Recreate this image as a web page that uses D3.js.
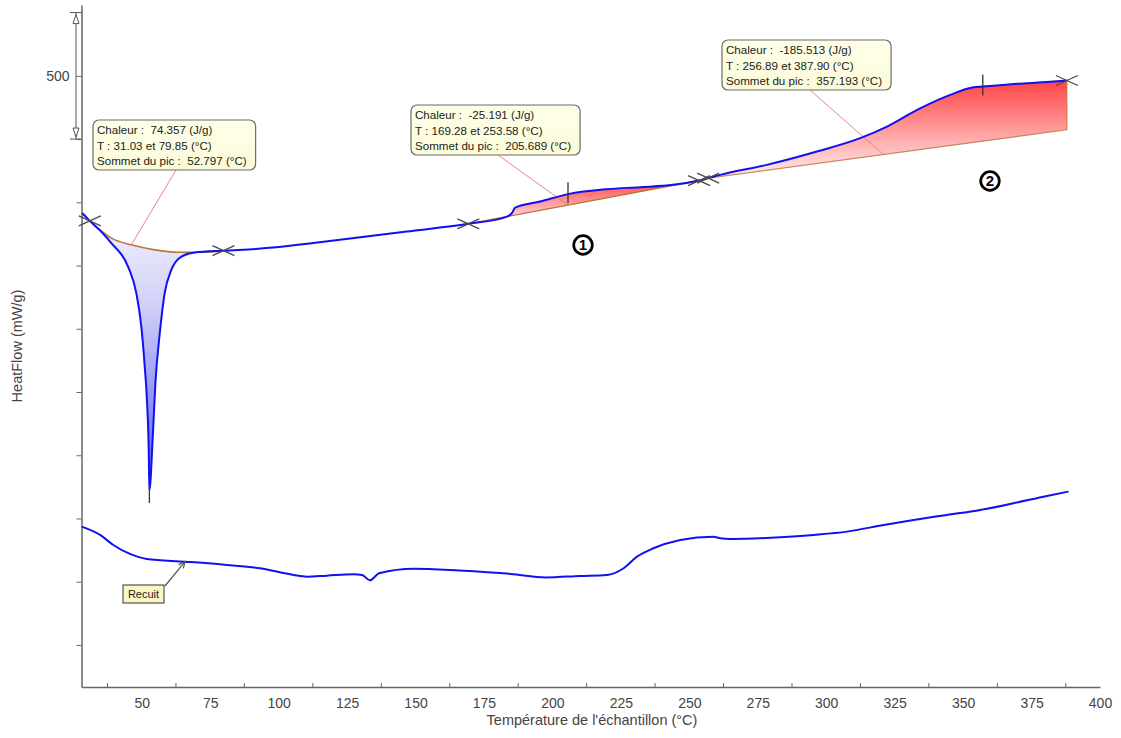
<!DOCTYPE html>
<html>
<head>
<meta charset="utf-8">
<script src="https://cdn.jsdelivr.net/npm/d3@7"></script>
<style>
  body { margin: 0; background: #fff; }
  svg { display: block; }
  text { font-family: "Liberation Sans", Arial, sans-serif; }
  .pre { white-space: pre; }
</style>
</head>
<body>
<svg id="chart" width="1121" height="738"></svg>
<script>
// First heating run (°C, mW/g) with the integrated peaks
const heatTemp = [28.3, 31.03, 35.2, 38.9, 45.0, 48.0, 49.85, 51.1, 51.9, 52.55, 52.797,
  54.1, 55.0, 56.6, 58.4, 60.8, 64.5, 69.4, 79.85, 92.5, 122.4, 146.8, 169.28,
  183.4, 185.2, 186.4, 195.5, 205.689, 219.9, 232.1, 244.1, 253.58, 256.89, 261.3,
  278.3, 296.6, 312.4, 322.2, 333.2, 345.3, 353.8, 357.193, 369.7, 381.9, 387.90];
const heatFlow = [282.8, 270.6, 253.7, 235.4, 198.4, 156.8, 103.4, 40.2, -12.5, -91.6, -155,
  -64.7, 14.4, 93.5, 156.8, 193.1, 214.2, 220.5, 223.5, 226.4, 240.6, 253.7, 265.9,
  277.4, 282.8, 291.7, 301.2, 312.9, 320.8, 323.9, 327.6, 334.4, 338.2, 343.4,
  359.2, 380.3, 401.5, 419.8, 446.2, 469.9, 482.1, 483.1, 487.3, 490.5, 492.6];

// Annealed sample ("Recuit")
const recuitTemp = [28.07, 34.8, 39.6, 45.7, 51.8, 65.8, 81.05, 93.2, 105.4, 110.3, 117.6,
  127.3, 130.5, 133.3, 136.7, 149.4, 165.9, 184.8, 197.5, 210.1, 219.9, 226.0, 230.9,
  236.9, 246.7, 258.8, 261.3, 264.9, 283.2, 295.4, 307.6, 321.0, 331.9, 344.1, 356.3,
  368.4, 380.6, 388.5];
const recuitFlow = [-212.9, -226.0, -241.9, -256.1, -264.0, -268.3, -273.5, -278.7, -289.3, -292.0, -290.4,
  -288.2, -289.3, -297.7, -286.6, -279.5, -282.4, -287.7, -293.2, -290.9, -289.3, -278.7, -260.4,
  -247.1, -234.0, -228.7, -231.3, -232.4, -229.7, -226.0, -220.8, -210.2, -202.3, -194.4, -186.5,
  -175.9, -164.3, -157.5];

// Curved baseline under the melting peak
const base1Temp = [31.03, 38.9, 46.2, 54.7, 63.3, 73.0, 79.85];
const base1Flow = [270.6, 243.3, 232.7, 224.8, 221.1, 221.1, 223.5];
// Straight baselines of the two exothermic peaks (start / end values)
const base2Flow = [265.9, 334.4];
const base3Flow = [338.2, 414.6];

// Peak integration results
const peakStart = [31.03, 169.28, 256.89];
const peakEnd = [79.85, 253.58, 387.90];
const peakTop = [52.797, 205.689, 357.193];
const peakHeat = [74.357, -25.191, -185.513];

// Axes
const xTicks = [50, 75, 100, 125, 150, 175, 200, 225, 250, 275, 300, 325, 350, 375, 400];
const yTicks = [500, 400, 300, 200, 100, 0, -100, -200, -300, -400];
const yTickLabels = ["500", "", "", "", "", "", "", "", "", ""];
const xTitle = "Température de l'échantillon (°C)";
const yTitle = "HeatFlow (mW/g)";
const markLabels = ["1", "2"];
const recuitLabel = "Recuit";

// Layout (pixels)
const layout = {
  boxes: [
    { x: 93, y: 120, from: [176, 170], toT: 46.2 },
    { x: 411, y: 105, from: [498, 155], toT: 205.689 },
    { x: 722, y: 40, from: [810, 90], toT: 320.9 }
  ],
  marks: [{ x: 583, y: 245 }, { x: 990, y: 181 }],
  recuit: { x: 123, y: 585, w: 41, h: 18, from: [165, 586], t: 65.8 }
};

const svg = d3.select("#chart");
const x = d3.scaleLinear().domain([28, 400]).range([81.5, 1100]);
const y = d3.scaleLinear().domain([-466.5, 612]).range([687, 5]);

function interp(ts, vs, t) {
  if (t <= ts[0]) return vs[0];
  for (let i = 1; i < ts.length; i++) {
    if (t <= ts[i]) {
      const f = (t - ts[i - 1]) / (ts[i] - ts[i - 1]);
      return vs[i - 1] + f * (vs[i] - vs[i - 1]);
    }
  }
  return vs[vs.length - 1];
}
function baselineAt(i, t) {
  if (i === 0) return interp(base1Temp, base1Flow, t);
  const b = i === 1 ? base2Flow : base3Flow;
  return interp([peakStart[i], peakEnd[i]], b, t);
}
const heatAt = t => interp(heatTemp, heatFlow, t);

const defs = svg.append("defs");
const gBlue = defs.append("linearGradient").attr("id", "gBlue")
  .attr("x1", 0).attr("y1", 0).attr("x2", 0).attr("y2", 1);
gBlue.append("stop").attr("offset", 0).attr("stop-color", "#f0f0fd");
gBlue.append("stop").attr("offset", 0.3).attr("stop-color", "#d2d2f8");
gBlue.append("stop").attr("offset", 1).attr("stop-color", "#5c5cf2");
const gRed = defs.append("linearGradient").attr("id", "gRed")
  .attr("x1", 0).attr("y1", 0).attr("x2", 0).attr("y2", 1);
gRed.append("stop").attr("offset", 0).attr("stop-color", "#ff4444");
gRed.append("stop").attr("offset", 1).attr("stop-color", "#fff0f0");
const gBox = defs.append("linearGradient").attr("id", "gBox")
  .attr("x1", 0).attr("y1", 0).attr("x2", 0).attr("y2", 1);
gBox.append("stop").attr("offset", 0).attr("stop-color", "#ffffea");
gBox.append("stop").attr("offset", 1).attr("stop-color", "#fbfbd8");

// ---- axes
const axisColor = "#666";
const gx = svg.append("g").attr("transform", `translate(0,${y.range()[0]})`)
  .call(d3.axisBottom(x).tickValues(xTicks).tickSize(0).tickSizeOuter(0).tickPadding(11));
gx.select(".domain").attr("stroke", axisColor).attr("stroke-width", 1.5);
gx.selectAll("text").attr("font-size", 14).attr("fill", "#444")
  .attr("font-family", "'Liberation Sans', Arial, sans-serif");
// minor ticks between the labels
const minor = d3.range(xTicks[0] - 12.5, x.domain()[1], 25);
svg.append("g").selectAll("line").data(minor).join("line")
  .attr("x1", d => x(d)).attr("x2", d => x(d))
  .attr("y1", y.range()[0]).attr("y2", y.range()[0] - 4)
  .attr("stroke", axisColor).attr("stroke-width", 1);

const gy = svg.append("g").attr("transform", `translate(${x.range()[0]},0)`)
  .call(d3.axisLeft(y).tickValues(yTicks).tickSize(5).tickSizeOuter(0).tickPadding(7)
    .tickFormat((d, i) => yTickLabels[i]));
gy.select(".domain").attr("stroke", axisColor).attr("stroke-width", 1.5);
gy.selectAll(".tick line").attr("stroke", axisColor);
gy.selectAll("text").attr("font-size", 14).attr("fill", "#444")
  .attr("font-family", "'Liberation Sans', Arial, sans-serif");

// scale bar 600 -> 400
{
  const bx = x.range()[0] - 5.5, top = y(600), bot = y(400);
  const g = svg.append("g").attr("stroke", "#555").attr("fill", "#fff").attr("stroke-width", 1);
  g.append("line").attr("x1", bx).attr("x2", bx).attr("y1", top).attr("y2", bot);
  g.append("line").attr("x1", bx - 6).attr("x2", bx + 5.5).attr("y1", top).attr("y2", top);
  g.append("line").attr("x1", bx - 6).attr("x2", bx + 5.5).attr("y1", bot).attr("y2", bot);
  g.append("path").attr("d", `M${bx},${top + 2}L${bx - 3},${top + 11}L${bx + 3},${top + 11}Z`);
  g.append("path").attr("d", `M${bx},${bot - 2}L${bx - 3},${bot - 11}L${bx + 3},${bot - 11}Z`);
}

// ---- peak areas
const areaGen = d3.area().curve(d3.curveMonotoneX)
  .x(d => x(d.t)).y0(d => y(d.b)).y1(d => y(d.v));
peakStart.forEach((s, i) => {
  const pts = heatTemp.map((t, k) => ({ t, v: heatFlow[k] }))
    .filter(p => p.t >= s - 1e-9 && p.t <= peakEnd[i] + 1e-9)
    .map(p => ({ ...p, b: baselineAt(i, p.t) }));
  svg.append("path").attr("d", areaGen(pts))
    .attr("fill", peakHeat[i] > 0 ? "url(#gBlue)" : "url(#gRed)");
});

// ---- baselines
const baseColor = "#b8763c";
const lineMono = d3.line().curve(d3.curveMonotoneX).x(d => x(d[0])).y(d => y(d[1]));
svg.append("path").attr("d", lineMono(base1Temp.map((t, k) => [t, base1Flow[k]])))
  .attr("fill", "none").attr("stroke", baseColor).attr("stroke-width", 1.6);
svg.append("path").attr("d", d3.line()([[x(peakStart[1]), y(base2Flow[0])], [x(peakEnd[1]), y(base2Flow[1])]]))
  .attr("fill", "none").attr("stroke", baseColor).attr("stroke-width", 1.4);
svg.append("path").attr("d", d3.line()([[x(peakStart[2]), y(base3Flow[0])], [x(peakEnd[2]), y(base3Flow[1])],
  [x(peakEnd[2]), y(heatAt(peakEnd[2]))]]))
  .attr("fill", "none").attr("stroke", baseColor).attr("stroke-width", 1.2).attr("stroke-opacity", 0.8);

// ---- leader lines
layout.boxes.forEach((b, i) => {
  svg.append("line").attr("x1", b.from[0]).attr("y1", b.from[1])
    .attr("x2", x(b.toT)).attr("y2", y(baselineAt(i, b.toT)))
    .attr("stroke", "#e07a7a").attr("stroke-width", 0.9);
});

// ---- curves
const curveColor = "#1010f2";
svg.append("path").attr("d", lineMono(heatTemp.map((t, k) => [t, heatFlow[k]])))
  .attr("fill", "none").attr("stroke", curveColor).attr("stroke-width", 2);
svg.append("path").attr("d", lineMono(recuitTemp.map((t, k) => [t, recuitFlow[k]])))
  .attr("fill", "none").attr("stroke", curveColor).attr("stroke-width", 2);

// ---- limit markers and peak ticks
const markerColor = "#4a4a4a";
peakStart.forEach((s, i) => {
  [s, peakEnd[i]].forEach(t => {
    svg.append("path").attr("transform", `translate(${x(t)},${y(heatAt(t))})`)
      .attr("d", "M-11,-5L11,5M-11,5L11,-5")
      .attr("stroke", markerColor).attr("stroke-width", 1.3).attr("fill", "none");
  });
  const px = x(peakTop[i]), py = y(heatAt(peakTop[i]));
  const up = peakHeat[i] > 0 ? 7 : 12, down = peakHeat[i] > 0 ? 13 : 9;
  svg.append("line").attr("x1", px).attr("x2", px)
    .attr("y1", py - up).attr("y2", py + down)
    .attr("stroke", "#333").attr("stroke-width", 1.3);
});

// ---- result boxes
layout.boxes.forEach((b, i) => {
  const lines = [
    `Chaleur :  ${peakHeat[i].toFixed(3)} (J/g)`,
    `T : ${peakStart[i].toFixed(2)} et ${peakEnd[i].toFixed(2)} (°C)`,
    `Sommet du pic :  ${peakTop[i].toFixed(3)} (°C)`
  ];
  const g = svg.append("g").attr("transform", `translate(${b.x},${b.y})`);
  const rect = g.append("rect").attr("rx", 6).attr("ry", 6)
    .attr("fill", "url(#gBox)").attr("stroke", "#6b6b6b").attr("stroke-width", 1.2);
  const texts = g.selectAll("text").data(lines).join("text").attr("class", "pre")
    .attr("x", 4).attr("y", (d, k) => 14 + k * 15.6)
    .attr("font-size", 11.6).attr("fill", "#222").text(d => d);
  let w = 0;
  texts.each(function () { w = Math.max(w, this.getComputedTextLength()); });
  rect.attr("width", w + 13).attr("height", 50);
});

// ---- annealing label
{
  const r = layout.recuit;
  const tx = x(r.t), ty = y(interp(recuitTemp, recuitFlow, r.t));
  svg.append("line").attr("x1", r.from[0]).attr("y1", r.from[1]).attr("x2", tx).attr("y2", ty)
    .attr("stroke", "#555").attr("stroke-width", 1.2);
  const ang = Math.atan2(ty - r.from[1], tx - r.from[0]);
  const ah = 7, spread = 0.45;
  const p1 = [tx - ah * Math.cos(ang - spread), ty - ah * Math.sin(ang - spread)];
  const p2 = [tx - ah * Math.cos(ang + spread), ty - ah * Math.sin(ang + spread)];
  svg.append("path").attr("d", `M${p1}L${tx},${ty}L${p2}`)
    .attr("fill", "none").attr("stroke", "#555").attr("stroke-width", 1.2);
  svg.append("rect").attr("x", r.x).attr("y", r.y).attr("width", r.w).attr("height", r.h)
    .attr("fill", "#fbf7c2").attr("stroke", "#444").attr("stroke-width", 1.1);
  svg.append("text").attr("x", r.x + r.w / 2).attr("y", r.y + r.h / 2 + 4)
    .attr("text-anchor", "middle").attr("font-size", 11).attr("fill", "#222").text(recuitLabel);
}

// ---- circled peak numbers
layout.marks.forEach((m, i) => {
  svg.append("circle").attr("cx", m.x).attr("cy", m.y).attr("r", 9.3)
    .attr("fill", "#fff").attr("stroke", "#000").attr("stroke-width", 2.7);
  svg.append("text").attr("x", m.x).attr("y", m.y + 5.3).attr("text-anchor", "middle")
    .attr("font-size", 15).attr("font-weight", "bold").attr("fill", "#000").text(markLabels[i]);
});

// ---- titles
svg.append("text").attr("x", 592).attr("y", 725).attr("text-anchor", "middle")
  .attr("font-size", 14.5).attr("fill", "#444").text(xTitle);
svg.append("text").attr("transform", "translate(22,346) rotate(-90)").attr("text-anchor", "middle")
  .attr("font-size", 14.5).attr("fill", "#444").text(yTitle);
</script>
</body>
</html>
